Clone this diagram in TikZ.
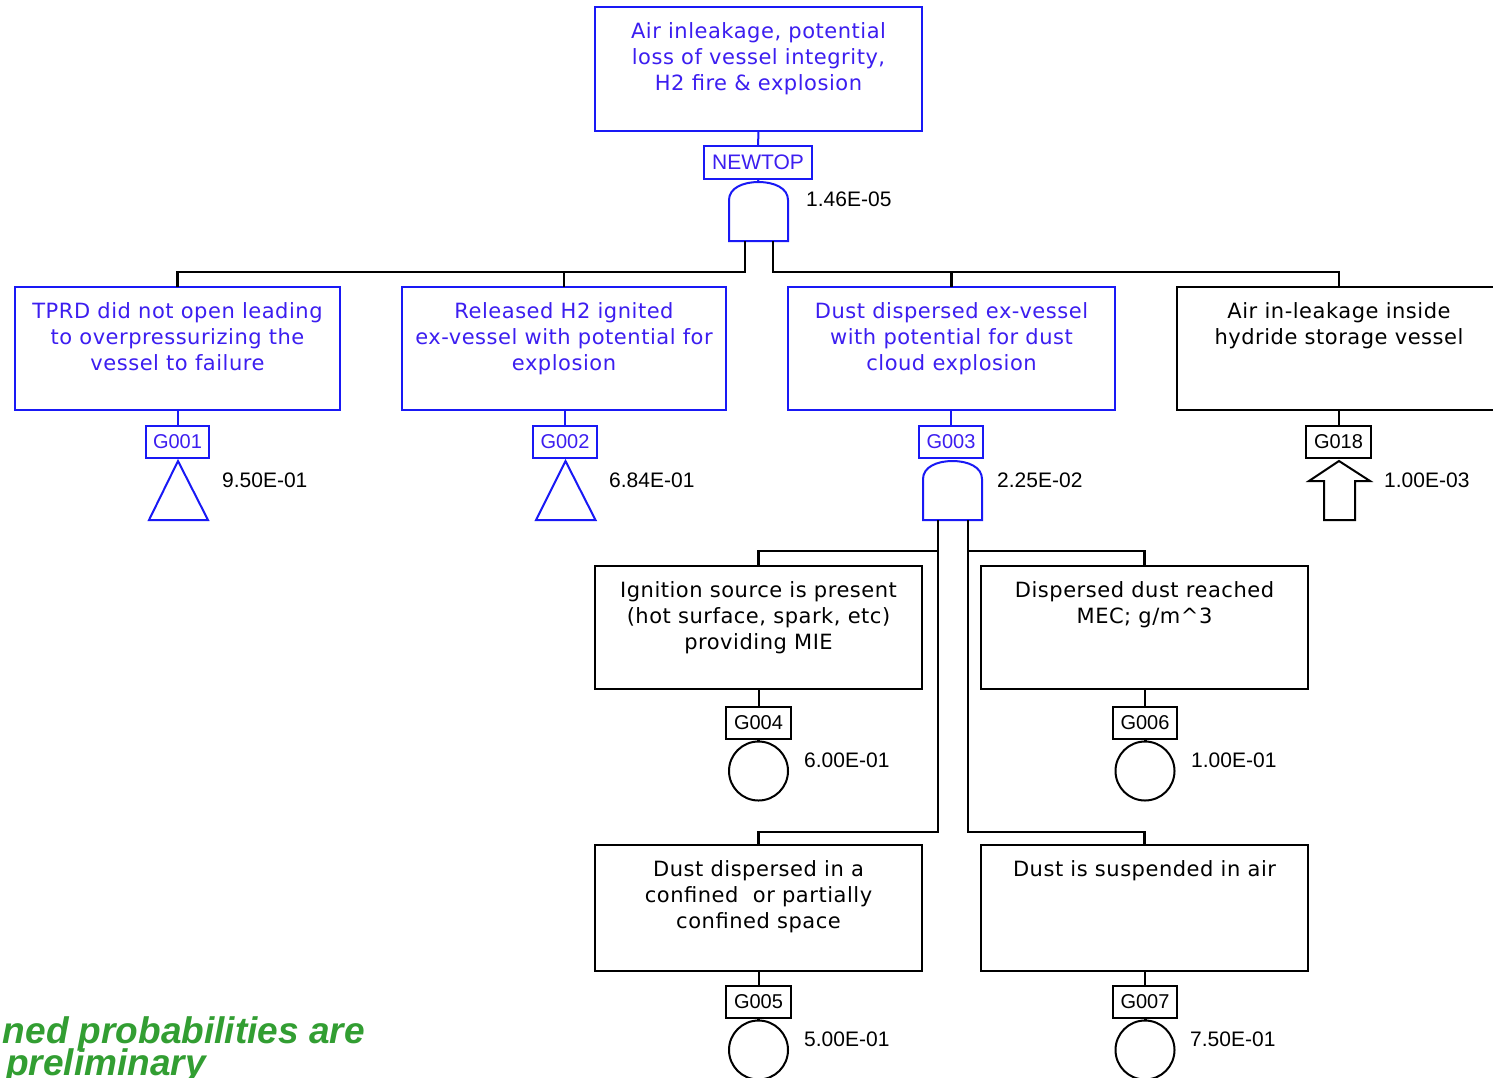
\documentclass[tikz,border=0pt]{standalone}
\usepackage{fontspec}
\setmainfont{DejaVu Sans}
\newfontfamily\evfamily{DejaVu Sans}[LetterSpace=2.5]
\newfontfamily\labfamily{Liberation Sans}
\definecolor{ftblue}{RGB}{25,25,245}
\definecolor{fttext}{RGB}{60,30,240}
\definecolor{ftgreen}{RGB}{50,158,50}
\begin{document}
\begin{tikzpicture}[x=1pt,y=-1pt,
  evbox/.style={rectangle,draw,line width=2pt,minimum width=327pt,minimum height=124pt,inner sep=0pt,outer sep=0pt},
  evtext/.style={align=center,anchor=north,inner sep=0pt,font=\evfamily\fontsize{21}{26}\selectfont},
  tagbox/.style={rectangle,draw,line width=2pt,minimum width=64pt,minimum height=32pt,inner sep=0pt,outer sep=0pt,font=\labfamily\fontsize{20}{24}\selectfont},
  prob/.style={anchor=west,inner sep=0pt,font=\labfamily\fontsize{21}{24}\selectfont},
  basic/.style={circle,draw,line width=2pt,minimum size=59pt,inner sep=0pt,outer sep=0pt},
  gateline/.style={line width=2pt,line join=miter},
  wire/.style={line width=2.5pt,black},
  bluewire/.style={line width=2pt,ftblue},
  bluepart/.style={draw=ftblue,text=fttext},
  blackpart/.style={draw=black,text=black}]
\clip (0,0) rectangle (1493,1077);
\fill[white] (0,0) rectangle (1493,1077);

% ---------- top event ----------
\node[evbox,bluepart] (top) at (758.5,69) {};
\node[evtext,text=fttext] (topt) at (758.5,22.5) {Air inleakage, potential\\loss of vessel integrity,\\H2 fire \& explosion};
\node[tagbox,bluepart,minimum width=108pt,minimum height=33pt,font=\labfamily\fontsize{21}{24}\selectfont] (newtop) at (758,162.5) {NEWTOP};
\draw[bluewire] (top.south) -- (newtop.north);
\coordinate (g0top) at (758.5,182);
\draw[gateline,ftblue] (729,241) -- (729,200) .. controls (729,188) and (743,182) .. (g0top)
  .. controls (774,182) and (788,188) .. (788,200) -- (788,241) -- cycle;
\draw[bluewire] (newtop.south) -- (g0top);
\node[prob] (p0) at (806,199) {1.46E-05};
\coordinate (g0L) at (745,241);
\coordinate (g0R) at (773,241);
\coordinate (bus0L) at (745,272);
\coordinate (bus0R) at (773,272);

% ---------- second level ----------
\node[evbox,bluepart,minimum width=325pt,minimum height=123pt] (b1) at (177.5,348.5) {};
\node[evtext,text=fttext] (b1t) at (177.5,302.5) {TPRD did not open leading\\to overpressurizing the\\vessel to failure};
\node[evbox,bluepart,minimum width=324pt,minimum height=123pt] (b2) at (564,348.5) {};
\node[evtext,text=fttext] (b2t) at (564,302.5) {Released H2 ignited\\ex-vessel with potential for\\explosion};
\node[evbox,bluepart,minimum width=327pt,minimum height=123pt] (b3) at (951.5,348.5) {};
\node[evtext,text=fttext] (b3t) at (951.5,302.5) {Dust dispersed ex-vessel\\with potential for dust\\cloud explosion};
\node[evbox,blackpart,minimum width=324pt,minimum height=123pt] (b4) at (1339,348.5) {};
\node[evtext] (b4t) at (1339,302.5) {Air in-leakage inside\\hydride storage vessel};

\draw[wire] (g0L) -- (bus0L) -| (b1.north);
\draw[wire] (bus0L -| b2.north) -- (b2.north);
\draw[wire] (g0R) -- (bus0R) -| (b4.north);
\draw[wire] (bus0R -| b3.north) -- (b3.north);

\node[tagbox,bluepart,minimum width=63pt] (t1) at (177.5,442) {G001};
\node[tagbox,bluepart] (t2) at (565,442) {G002};
\node[tagbox,bluepart] (t3) at (951,442) {G003};
\node[tagbox,blackpart,minimum width=65pt] (t4) at (1338.5,442) {G018};
\draw[bluewire] (b1.south) -- (t1.north);
\draw[bluewire] (b2.south -| t2.north) -- (t2.north);
\draw[bluewire] (b3.south -| t3.north) -- (t3.north);
\draw[wire,line width=2pt] (b4.south -| t4.north) -- (t4.north);

% transfer triangles
\draw[gateline,ftblue] (178,461) -- (208,520) -- (149,520) -- cycle;
\draw[gateline,ftblue] (565.5,461) -- (595.5,520) -- (536,520) -- cycle;
\node[prob] (p1) at (222,480) {9.50E-01};
\node[prob] (p2) at (609,480) {6.84E-01};

% AND gate G003
\coordinate (g3top) at (952.5,461);
\draw[gateline,ftblue] (923,520) -- (923,479) .. controls (923,467) and (937,461) .. (g3top)
  .. controls (968,461) and (982,467) .. (982,479) -- (982,520) -- cycle;
\node[prob] (p3) at (997,480) {2.25E-02};

% house event arrow G018
\draw[gateline,black] (1339,461) -- (1370,481) -- (1355,481) -- (1355,520) -- (1324,520) -- (1324,481) -- (1309,481) -- cycle;
\node[prob] (p4) at (1384,480) {1.00E-03};

% ---------- third and fourth levels ----------
\node[evbox,blackpart,minimum height=123pt] (b5) at (758.5,627.5) {};
\node[evtext] (b5t) at (758.5,581.5) {Ignition source is present\\(hot surface, spark, etc)\\providing MIE};
\node[evbox,blackpart,minimum height=123pt] (b6) at (1144.5,627.5) {};
\node[evtext] (b6t) at (1144.5,581.5) {Dispersed dust reached\\MEC; g/m\textasciicircum{}3};
\node[evbox,blackpart,minimum height=126pt] (b7) at (758.5,908) {};
\node[evtext] (b7t) at (758.5,860.5) {Dust dispersed in a\\confined\ \ or partially\\confined space};
\node[evbox,blackpart,minimum height=126pt] (b8) at (1144.5,908) {};
\node[evtext] (b8t) at (1144.5,860.5) {Dust is suspended in air};

\coordinate (g3L) at (938,520);
\coordinate (g3R) at (968,520);
\coordinate (j3L) at (938,551);
\coordinate (j3R) at (968,551);
\coordinate (e3L) at (938,832);
\coordinate (e3R) at (968,832);
\draw[wire] (g3L) -- (e3L) -| (b7.north);
\draw[wire] (j3L) -| (b5.north);
\draw[wire] (g3R) -- (e3R) -| (b8.north);
\draw[wire] (j3R) -| (b6.north);

\node[tagbox,blackpart,minimum width=65pt] (t5) at (758.5,723) {G004};
\node[tagbox,blackpart] (t6) at (1145,723) {G006};
\node[tagbox,blackpart,minimum width=65pt] (t7) at (758.5,1002) {G005};
\node[tagbox,blackpart] (t8) at (1145,1002) {G007};
\draw[wire,line width=2pt] (b5.south) -- (t5.north);
\draw[wire,line width=2pt] (b6.south -| t6.north) -- (t6.north);
\draw[wire,line width=2pt] (b7.south) -- (t7.north);
\draw[wire,line width=2pt] (b8.south -| t8.north) -- (t8.north);

\node[basic] (c5) at (758.5,771) {};
\node[basic] (c6) at (1145,771) {};
\node[basic] (c7) at (758.5,1050) {};
\node[basic] (c8) at (1145,1050) {};
\draw[wire,line width=3pt] (t5.south) -- (c5.north);
\draw[wire,line width=3pt] (t6.south) -- (c6.north);
\draw[wire,line width=3pt] (t7.south) -- (c7.north);
\draw[wire,line width=3pt] (t8.south) -- (c8.north);
\node[prob] (p5) at (804,760) {6.00E-01};
\node[prob] (p6) at (1191,760) {1.00E-01};
\node[prob] (p7) at (804,1039) {5.00E-01};
\node[prob] (p8) at (1190,1039) {7.50E-01};

% ---------- note ----------
\node[anchor=base east,inner sep=0pt,text=ftgreen,font=\labfamily\bfseries\itshape\fontsize{37}{37}\selectfont] (note1) at (365,1043) {ned probabilities are};
\node[anchor=base west,inner sep=0pt,text=ftgreen,font=\labfamily\bfseries\itshape\fontsize{37}{37}\selectfont] (note2) at (6,1075) {preliminary};
\end{tikzpicture}
\end{document}
